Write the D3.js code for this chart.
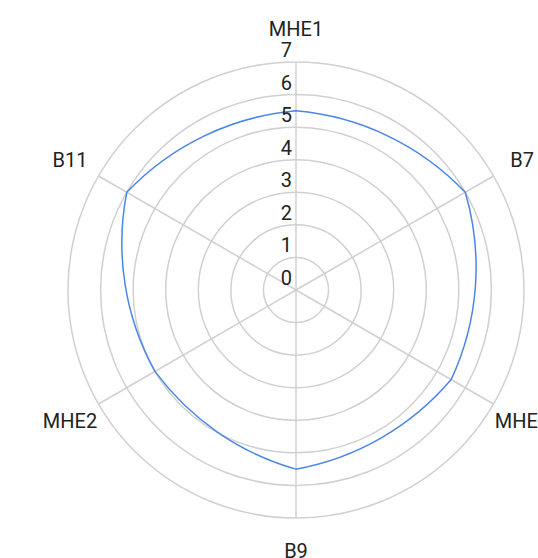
<!DOCTYPE html>
<html>
<head>
<meta charset="utf-8">
<script src="https://cdn.jsdelivr.net/npm/d3@7"></script>
<style>
  html, body { margin: 0; padding: 0; background: #fff; overflow: hidden; }
  svg { display: block; font-family: Roboto, "Noto Sans", sans-serif; }
</style>
</head>
<body>
<svg id="chart"></svg>
<script>
// data
const axes = ["MHE1", "B7", "MHE3", "B9", "MHE2", "B11"];
const values = [5.5, 6, 5.5, 5.5, 5, 6];
const ticks = [0, 1, 2, 3, 4, 5, 6, 7];

let width = 538, height = 558;
let cx = 296, cy = 290, radius = 228;

const svg = d3.select("#chart")
  .attr("width", width)
  .attr("height", height);

const r = d3.scaleLinear().domain([0, 7]).range([0, radius]);
const angle = d3.scaleLinear().domain([0, axes.length]).range([0, 2 * Math.PI]);

const g = svg.append("g").attr("transform", `translate(${cx},${cy})`);

// rings
g.append("g")
  .selectAll("circle")
  .data(ticks.filter(t => t > 0))
  .enter()
  .append("circle")
  .attr("r", d => r(d))
  .attr("fill", "none")
  .attr("stroke", "#d0d0d0")
  .attr("stroke-width", 1.5);

// spokes
g.append("g")
  .selectAll("line")
  .data(axes)
  .enter()
  .append("line")
  .attr("x1", 0).attr("y1", 0)
  .attr("x2", (d, i) => Math.sin(angle(i)) * r(7))
  .attr("y2", (d, i) => -Math.cos(angle(i)) * r(7))
  .attr("stroke", "#d0d0d0")
  .attr("stroke-width", 1.5);

// series line: each segment is a gentle outward arc between the points
const arcR = 265;
const pts = values.map((v, i) => [Math.sin(angle(i)) * r(v), -Math.cos(angle(i)) * r(v)]);
let d = `M${pts[0][0]},${pts[0][1]}`;
for (let i = 1; i <= pts.length; i++) {
  const p = pts[i % pts.length];
  d += `A${arcR},${arcR} 0 0 1 ${p[0]},${p[1]}`;
}
g.append("path")
  .attr("d", d + "Z")
  .attr("fill", "none")
  .attr("stroke", "#4a86e8")
  .attr("stroke-width", 1.5);

// tick labels
g.append("g")
  .selectAll("text")
  .data(ticks)
  .enter()
  .append("text")
  .attr("x", -4)
  .attr("y", d => -r(d) - 5)
  .attr("text-anchor", "end")
  .attr("font-size", 20)
  .attr("fill", "#222")
  .text(d => d);

// axis labels
g.append("g")
  .selectAll("text")
  .data(axes)
  .enter()
  .append("text")
  .attr("x", (d, i) => Math.sin(angle(i)) * 261)
  .attr("y", (d, i) => -Math.cos(angle(i)) * 261)
  .attr("dy", "0.35em")
  .attr("text-anchor", "middle")
  .attr("font-size", 20)
  .attr("fill", "#222")
  .text(d => d);
</script>
</body>
</html>
